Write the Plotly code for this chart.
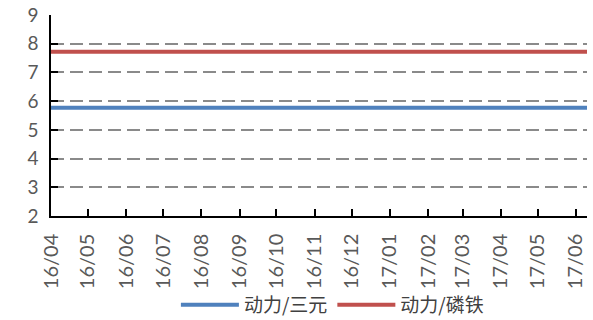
import plotly.graph_objects as go

dates = ["2016-04-01", "2016-05-01", "2016-06-01", "2016-07-01", "2016-08-01",
         "2016-09-01", "2016-10-01", "2016-11-01", "2016-12-01", "2017-01-01",
         "2017-02-01", "2017-03-01", "2017-04-01", "2017-05-01", "2017-06-01",
         "2017-06-10"]
ternary = [5.77] * 16
lfp = [7.72] * 16

fig = go.Figure()
fig.add_trace(go.Scatter(x=dates, y=ternary, mode="lines", name="动力/三元",
                         line=dict(color="#4F81BD", width=4)))
fig.add_trace(go.Scatter(x=dates, y=lfp, mode="lines", name="动力/磷铁",
                         line=dict(color="#C0504D", width=4)))

x_font = dict(family="Lato, Liberation Sans", size=20, color="#595959")
y_font = dict(family="Lato, Liberation Sans", size=19, color="#595959")

fig.update_layout(
    width=593, height=320,
    margin=dict(l=51, r=6, t=15, b=104),
    plot_bgcolor="white", paper_bgcolor="white",
    showlegend=True,
    legend=dict(orientation="h", x=0.525, xanchor="center",
                yref="container", y=0.047, yanchor="middle",
                font=dict(family="Noto Sans CJK SC", size=19, color="#404040"),
                itemwidth=58, bgcolor="rgba(0,0,0,0)"),
)
fig.update_xaxes(
    type="date", range=["2016-04-01", "2017-06-10"], automargin=False,
    dtick="M1", tick0="2016-04-01", tickformat="%y/%m", tickangle=-90,
    showgrid=False, showline=True, linecolor="black", linewidth=1.5,
    ticks="inside", ticklen=7, tickcolor="black", tickwidth=1.5,
    tickfont=x_font, ticklabelstandoff=8,
)
fig.update_yaxes(
    range=[2, 9], dtick=1, automargin=False,
    showgrid=True, gridcolor="#8a8a8a", griddash="13px,6px", gridwidth=1.5,
    showline=True, linecolor="black", linewidth=1.5,
    ticks="inside", ticklen=7, tickcolor="black", tickwidth=1.5,
    tickfont=y_font, ticklabelstandoff=7, zeroline=False,
)

# drop the browser's default 8px page margin so the figure sits at 0,0
fig.write_html("out.html", config={"displayModeBar": False},
               post_script="document.body.style.margin='0';")
